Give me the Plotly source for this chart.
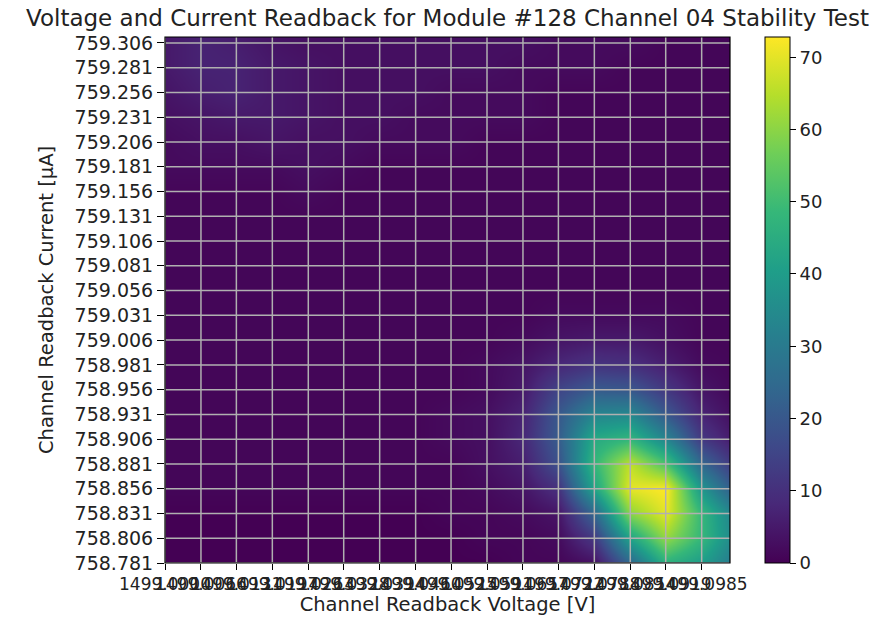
import plotly.graph_objects as go

# ---- data ----
voltage_ticks = [1499.0000, 1499.0066, 1499.0131, 1499.0197, 1499.0263, 1499.0328,
                 1499.0394, 1499.0460, 1499.0525, 1499.0591, 1499.0657, 1499.0722,
                 1499.0788, 1499.0854, 1499.0919, 1499.0985]
voltage_tick_labels = ["%.4f" % v for v in voltage_ticks]
voltage_centers = voltage_ticks + [1499.1051]
voltage_range = [1499.0000, 1499.1037]

current_ticks = [758.781, 758.806, 758.831, 758.856, 758.881, 758.906, 758.931,
                 758.956, 758.981, 759.006, 759.031, 759.056, 759.081, 759.106,
                 759.131, 759.156, 759.181, 759.206, 759.231, 759.256, 759.281,
                 759.306]
current_tick_labels = ["%.3f" % c for c in current_ticks]
current_centers = current_ticks + [759.331]
current_range = [758.781, 759.312]

counts = [
    [0, 0, 0, 0, 0, 0, 0, 0, 0, 0, 1, 1, 3, 24, 46, 40, 28],
    [0, 0, 0, 0, 0, 0, 0, 0, 0, 1, 1, 2, 12, 42, 61, 48, 32],
    [0, 0, 0, 0, 0, 0, 0, 0, 1, 1, 2, 4, 24, 60, 70, 48, 30],
    [1, 1, 1, 1, 1, 1, 1, 1, 1, 2, 4, 10, 42, 70, 72.8, 38, 18],
    [1, 1, 1, 1, 1, 1, 1, 1, 1, 3, 6, 18, 48, 66, 52, 24, 10],
    [1, 1, 1, 1, 1, 1, 1, 1, 2, 3, 8, 21, 44, 48, 33, 12, 4],
    [1, 1, 1, 1, 1, 1, 1, 1, 2, 3, 7, 20, 33, 34, 20, 7, 2],
    [1, 1, 1, 1, 1, 1, 1, 1, 1, 2, 5, 15, 21, 20, 12, 4, 1],
    [1, 1, 1, 1, 1, 1, 1, 1, 1, 2, 4, 8, 11, 10, 6, 2, 1],
    [1, 1, 1, 1, 1, 1, 1, 1, 1, 1, 2, 4, 5, 5, 3, 1, 1],
    [1, 1, 1, 1, 1, 1, 1, 1, 1, 1, 1, 2, 2, 2, 2, 1, 1],
    [1, 1, 1, 1, 1, 1, 1, 1, 1, 1, 1, 1, 1, 1, 1, 1, 1],
    [1, 1, 1, 1, 1, 1, 1, 1, 1, 1, 1, 1, 1, 1, 1, 1, 1],
    [1, 1, 1, 1, 1, 1, 1, 1, 1, 1, 1, 1, 1, 1, 1, 1, 1],
    [1, 1, 1, 1, 1, 1, 1, 1, 1, 1, 1, 1, 1, 1, 1, 1, 1],
    [1, 1, 1, 1, 2, 1, 1, 1, 1, 1, 1, 1, 1, 1, 1, 1, 1],
    [2, 2, 2, 2, 3, 2, 1, 1, 1, 1, 1, 1, 1, 1, 1, 1, 1],
    [2, 3, 3, 4, 3, 3, 2, 2, 2, 1, 1, 1, 1, 1, 1, 1, 1],
    [3, 4, 5, 5, 4, 3, 3, 2, 2, 2, 2, 1, 1, 1, 1, 1, 1],
    [4, 6, 7, 5, 4, 3, 3, 3, 2, 2, 2, 1, 1, 1, 1, 1, 1],
    [5, 7, 7, 5, 4, 3, 3, 3, 3, 3, 2, 2, 2, 1, 1, 1, 1],
    [5, 7, 6, 4, 3, 3, 3, 3, 3, 3, 3, 2, 2, 2, 1, 1, 1],
    [4, 5, 4, 3, 3, 3, 3, 3, 3, 3, 3, 2, 2, 1, 1, 1, 1],
]

colorbar_ticks = [0, 10, 20, 30, 40, 50, 60, 70]

title_text = "Voltage and Current Readback for Module #128 Channel 04 Stability Test"
x_title = "Channel Readback Voltage [V]"
y_title = "Channel Readback Current [μA]"

# ---- figure ----
FONT = "DejaVu Sans"
TXT = "#222222"
zmax = max(max(r) for r in counts)

fig = go.Figure()
fig.add_trace(go.Heatmap(
    x=voltage_centers, y=current_centers, z=counts,
    colorscale="Viridis", zsmooth="best", zmin=0, zmax=zmax,
    colorbar=dict(
        x=1.062, xanchor="left", xpad=0, y=0.5, yanchor="middle", ypad=0,
        len=1, lenmode="fraction", thickness=25, thicknessmode="pixels",
        outlinecolor="black", outlinewidth=1,
        tickvals=colorbar_ticks, ticks="outside", ticklen=6, tickcolor="black",
        tickfont=dict(family=FONT, size=18, color=TXT),
    ),
    hoverinfo="skip",
))

shapes = []
for v in voltage_ticks:
    shapes.append(dict(type="line", xref="x", yref="paper", x0=v, x1=v, y0=0, y1=1,
                       line=dict(color="#b0b0b0", width=1.5), layer="above"))
for c in current_ticks:
    shapes.append(dict(type="line", xref="paper", yref="y", x0=0, x1=1, y0=c, y1=c,
                       line=dict(color="#b0b0b0", width=1.5), layer="above"))
shapes.append(dict(type="rect", xref="paper", yref="paper", x0=0, x1=1, y0=0, y1=1,
                   line=dict(color="black", width=1.2), fillcolor="rgba(0,0,0,0)",
                   layer="above"))

fig.update_layout(
    width=874, height=608,
    margin=dict(l=157, r=152, t=29, b=53),
    paper_bgcolor="white", plot_bgcolor="white",
    font=dict(family=FONT, size=17, color=TXT),
    title=dict(text=title_text, x=0.5, xref="paper", xanchor="center",
               y=1 - 10 / 608, yref="container", yanchor="middle",
               font=dict(family=FONT, size=23, color=TXT)),
    shapes=shapes,
    xaxis=dict(range=voltage_range, tickvals=voltage_ticks, ticktext=voltage_tick_labels,
               ticks="outside", ticklen=6, tickcolor="black", showgrid=False,
               zeroline=False, tickangle=0, automargin=False,
               tickfont=dict(family=FONT, size=17, color=TXT),
               title=dict(text=x_title, standoff=17, font=dict(family=FONT, size=19.5, color=TXT))),
    yaxis=dict(range=current_range, tickvals=current_ticks, ticktext=current_tick_labels,
               ticks="outside", ticklen=7, tickcolor="black", showgrid=False,
               zeroline=False, automargin=False,
               tickfont=dict(family=FONT, size=19, color=TXT),
               title=dict(text=y_title, standoff=15, font=dict(family=FONT, size=19.5, color=TXT))),
)

fig.write_html("out.html")
